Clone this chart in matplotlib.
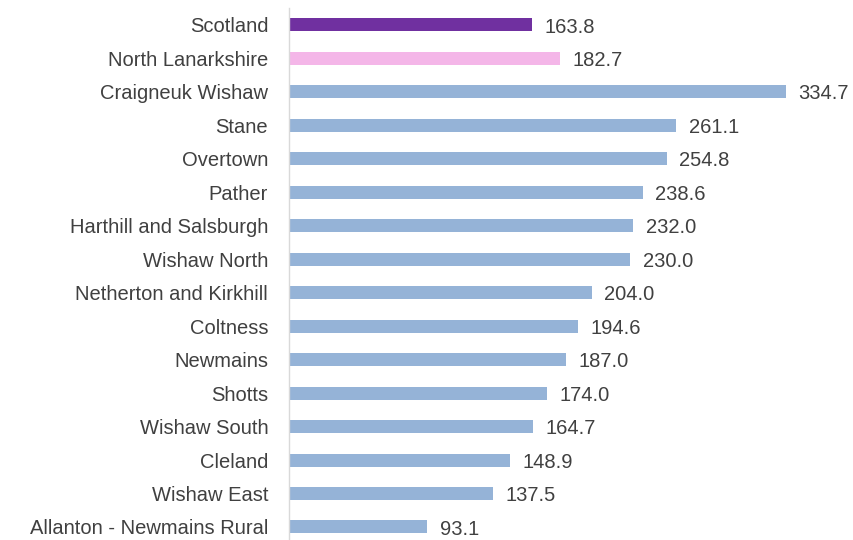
import matplotlib
matplotlib.use('Agg')
import matplotlib.pyplot as plt

areas = ['Scotland', 'North Lanarkshire', 'Craigneuk Wishaw', 'Stane', 'Overtown',
         'Pather', 'Harthill and Salsburgh', 'Wishaw North', 'Netherton and Kirkhill',
         'Coltness', 'Newmains', 'Shotts', 'Wishaw South', 'Cleland', 'Wishaw East',
         'Allanton - Newmains Rural']
rates = [163.8, 182.7, 334.7, 261.1, 254.8, 238.6, 232.0, 230.0, 204.0,
         194.6, 187.0, 174.0, 164.7, 148.9, 137.5, 93.1]
colours = ['#7030A0', '#F4B6E8'] + ['#95B3D7'] * 14

plt.rcParams['font.family'] = ['Liberation Sans', 'DejaVu Sans']
text_col = '#404040'

fig = plt.figure(figsize=(8.54, 5.40), dpi=100)
# axes placed in pixel terms: left edge at 289px, 1.4835 px per unit
left = 289 / 854
ax = fig.add_axes([left, -3.7 / 540, 1 - left, 535.5 / 540])

y = list(range(len(areas)))
ax.barh(y, rates, height=0.39, color=colours)
for yi, v in zip(y, rates):
    ax.annotate(f'{v:.1f}', (v, yi), xytext=(9, -1.5), textcoords='offset points',
                va='center', ha='left', fontsize=14.5, color=text_col)

ax.set_yticks(y)
ax.set_yticklabels(areas, fontsize=14.5, color=text_col)
ax.set_ylim(len(areas) - 0.5, -0.5)
ax.set_xlim(0, 565 / 1.4835)
ax.set_xticks([])
ax.tick_params(axis='y', length=0, pad=15)
for s in ['top', 'right', 'bottom']:
    ax.spines[s].set_visible(False)
ax.spines['left'].set_color('#D9D9D9')
ax.spines['left'].set_linewidth(1)

fig.savefig('out.png', dpi=100)
plt.close(fig)
